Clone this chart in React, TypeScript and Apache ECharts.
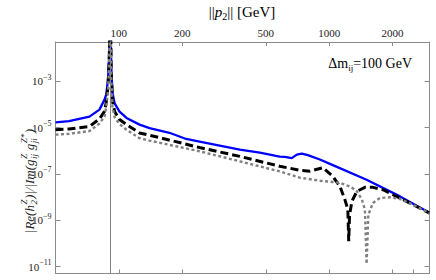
import React, { useEffect, useRef } from "react";
import * as echarts from "echarts";

// ---------- data ----------
const xTopTicksGeV = [100, 200, 500, 1000, 2000];
const xBottomTicksGeV = [100, 200, 500, 1000, 2000, 2500];
const yTickExponents = [-11, -9, -7, -5, -3];
const xRangeGeV = [50, 3000];
const yRange = [5e-12, 5e-2];
const zMassGeV = 91.19;

const blueP = [50, 58, 72.5, 80.9, 85.5, 87.1, 88.8, 89.8, 91.19, 92.1, 93.3, 95.5, 100.8, 108.8, 125.5, 140, 174, 209, 242, 376, 468, 582, 615, 664, 702, 741, 792, 903, 1041, 1507, 2171, 3000];
const blueRatio = [1.7e-5, 1.91e-5, 2.99e-5, 6.0e-5, 1.62e-4, 2.69e-4, 1.17e-3, 8.7e-3, 1, 4.0e-3, 3.2e-4, 1.12e-4, 4.9e-5, 2.63e-5, 1.35e-5, 9.5e-6, 6.0e-6, 3.24e-6, 2.51e-6, 1.12e-6, 8.3e-7, 5.6e-7, 5.4e-7, 4.8e-7, 6.8e-7, 7.6e-7, 6.5e-7, 4.2e-7, 2.4e-7, 5.6e-8, 1.07e-8, 2.09e-9];

const blackP = [50, 58, 72.5, 80.9, 85.5, 87.1, 88.8, 89.8, 91.19, 92.1, 93.3, 95.5, 100.8, 108.8, 125.5, 156, 242, 376, 582, 725, 809, 933, 1041, 1125, 1188, 1227, 1239, 1250, 1283, 1355, 1479, 1615, 1802, 2171, 3000];
const blackRatio = [8.1e-6, 8.7e-6, 1.12e-5, 2.4e-5, 5.0e-5, 1.26e-4, 5.6e-4, 4.5e-3, 1, 2.0e-3, 1.41e-4, 5.0e-5, 2.24e-5, 1.35e-5, 5.9e-6, 3.7e-6, 1.38e-6, 5.75e-7, 2.14e-7, 1.45e-7, 1.32e-7, 1.86e-7, 7.9e-8, 2.9e-8, 7.8e-9, 2.9e-9, 1.23e-10, 1.6e-9, 6.6e-9, 1.78e-8, 2.63e-8, 2.63e-8, 2.09e-8, 9.1e-9, 2.04e-9];

const grayP = [50, 58, 72.5, 80.9, 85.5, 87.1, 88.8, 89.8, 91.19, 92.1, 93.3, 95.5, 100.8, 108.8, 125.5, 140, 242, 376, 582, 725, 903, 1041, 1125, 1270, 1355, 1431, 1479, 1507, 1536, 1615, 1743, 1945, 2171, 2504, 3000];
const grayRatio = [5.0e-6, 5.4e-6, 7.1e-6, 1.51e-5, 3.0e-5, 7.9e-5, 3.5e-4, 2.8e-3, 1, 1.26e-3, 7.9e-5, 2.8e-5, 1.41e-5, 8.1e-6, 3.5e-6, 2.75e-6, 9.5e-7, 3.5e-7, 1.29e-7, 6.9e-8, 5.1e-8, 4.5e-8, 4.1e-8, 2.75e-8, 1.78e-8, 7.8e-9, 2.9e-9, 1.29e-11, 1.74e-9, 5.6e-9, 9.1e-9, 9.8e-9, 8.3e-9, 4.7e-9, 2.04e-9];

// ---------- helpers ----------
const lg = (v: number) => Math.log10(v);
const toPairs = (ps: number[], vs: number[]) => ps.map((p, i) => [lg(p), lg(vs[i])]);

const SERIF = "Liberation Serif";
const FRAME = "#8a8a8a";
const TEXT = "#222";

function buildYLabel() {
  const canvas = document.createElement("canvas");
  const ctx = canvas.getContext("2d") as CanvasRenderingContext2D;
  const baseSize = 13;
  const smallSize = 9;
  const measure = (t: string, size: number) => {
    ctx.font = `italic ${size}px ${SERIF}`;
    return ctx.measureText(t).width;
  };
  type Piece = { base?: string; sup?: string; sub?: string };
  const pieces: Piece[] = [
    { base: "|Re(h" },
    { sup: "Z", sub: "2" },
    { base: ")|/|Im(g" },
    { sup: "Z", sub: "ij" },
    { base: " g" },
    { sup: "Z*", sub: "ji" },
    { base: ")" },
  ];
  const widths = pieces.map((p) =>
    p.base ? measure(p.base, baseSize) : Math.max(measure(p.sup || "", smallSize), measure(p.sub || "", smallSize)) + 1
  );
  const total = widths.reduce((a, b) => a + b, 0);
  let x = -total / 2;
  const children: any[] = [];
  const mk = (t: string, size: number, px: number, py: number) => ({
    type: "text",
    x: px,
    y: py,
    style: {
      text: t,
      fontSize: size,
      fontFamily: SERIF,
      fontStyle: "italic",
      fill: TEXT,
      align: "left",
      verticalAlign: "middle",
    },
  });
  pieces.forEach((p, i) => {
    if (p.base) children.push(mk(p.base, baseSize, x, 0));
    else {
      children.push(mk(p.sup || "", smallSize, x + 0.5, -5.5));
      children.push(mk(p.sub || "", smallSize, x + 0.5, 4.5));
    }
    x += widths[i];
  });
  return { type: "group", x: 29, y: 181, rotation: Math.PI / 2, children };
}

export default function App() {
  const ref = useRef<HTMLDivElement>(null);
  useEffect(() => {
    document.body.style.margin = "0";
    if (!ref.current) return;
    const chart = echarts.init(ref.current, undefined, { renderer: "svg" });

    const tickLabelRich = {
      b: { fontSize: 11, fontFamily: SERIF, color: TEXT, lineHeight: 16 },
      s: { fontSize: 8, fontFamily: SERIF, color: TEXT, lineHeight: 8, verticalAlign: "top" },
    };

    const xCommon = {
      type: "value",
      min: lg(xRangeGeV[0]),
      max: lg(xRangeGeV[1]),
      splitLine: { show: false },
      axisLine: { show: true, lineStyle: { color: FRAME, width: 1 } },
    };
    const yCommon = {
      type: "value",
      min: lg(yRange[0]),
      max: lg(yRange[1]),
      splitLine: { show: false },
      axisLine: { show: true, lineStyle: { color: FRAME, width: 1 } },
    };

    const option: any = {
      animation: false,
      backgroundColor: "#fff",
      textStyle: { fontFamily: SERIF },
      grid: { left: 55.5, top: 42, right: 6.5, bottom: 6.5, outerBoundsMode: "none" },
      xAxis: [
        {
          ...xCommon,
          position: "top",
          axisTick: {
            show: true,
            inside: true,
            length: 4,
            lineStyle: { color: FRAME },
            customValues: xTopTicksGeV.map(lg),
          },
          axisLabel: {
            show: true,
            margin: 4,
            fontSize: 11,
            fontFamily: SERIF,
            color: TEXT,
            customValues: xTopTicksGeV.map(lg),
            formatter: (v: number) => String(Math.round(Math.pow(10, v))),
          },
        },
        {
          ...xCommon,
          position: "bottom",
          axisTick: {
            show: true,
            inside: true,
            length: 4,
            lineStyle: { color: FRAME },
            customValues: xBottomTicksGeV.map(lg),
          },
          axisLabel: { show: false },
        },
      ],
      yAxis: [
        {
          ...yCommon,
          position: "left",
          axisTick: {
            show: true,
            inside: true,
            length: 5,
            lineStyle: { color: FRAME },
            customValues: yTickExponents,
          },
          axisLabel: {
            show: true,
            margin: 4,
            fontFamily: SERIF,
            customValues: yTickExponents,
            formatter: (v: number) => `{b|10}{s|\u2212${Math.abs(Math.round(v))}}`,
            rich: tickLabelRich,
          },
        },
        {
          ...yCommon,
          position: "right",
          axisTick: {
            show: true,
            inside: true,
            length: 5,
            lineStyle: { color: FRAME },
            customValues: yTickExponents,
          },
          axisLabel: { show: false },
        },
      ],
      series: [
        {
          type: "line",
          name: "blue",
          xAxisIndex: 0,
          yAxisIndex: 0,
          data: toPairs(blueP, blueRatio),
          showSymbol: false,
          symbol: "none",
          lineStyle: { color: "#0000ff", width: 2.3 },
          clip: true,
          z: 2,
          markLine: {
            silent: true,
            symbol: "none",
            label: { show: false },
            lineStyle: { color: "#808080", width: 1, type: "solid" },
            data: [{ xAxis: lg(zMassGeV) }],
          },
        },
        {
          type: "line",
          name: "black",
          xAxisIndex: 0,
          yAxisIndex: 0,
          data: toPairs(blackP, blackRatio),
          showSymbol: false,
          symbol: "none",
          lineStyle: { color: "#000000", width: 3, type: [8, 4] },
          clip: true,
          z: 3,
        },
        {
          type: "line",
          name: "gray",
          xAxisIndex: 0,
          yAxisIndex: 0,
          data: toPairs(grayP, grayRatio),
          showSymbol: false,
          symbol: "none",
          lineStyle: { color: "#808080", width: 2.4, type: [3, 2.5] },
          clip: true,
          z: 4,
        },
      ],
      graphic: [
        {
          type: "text",
          x: 242,
          y: 12,
          style: {
            text: "{a|||}{i|p}{s|2}{a||| [GeV]}",
            align: "center",
            verticalAlign: "middle",
            rich: {
              a: { fontSize: 15, fontFamily: SERIF, color: TEXT, lineHeight: 18 },
              i: { fontSize: 15, fontFamily: SERIF, fontStyle: "italic", color: TEXT, lineHeight: 18 },
              s: { fontSize: 10, fontFamily: SERIF, color: TEXT, lineHeight: 10, verticalAlign: "bottom" },
            },
          },
        },
        {
          type: "text",
          x: 412,
          y: 63,
          style: {
            text: "{a|\u0394m}{s|ij}{a|=100 GeV}",
            align: "right",
            verticalAlign: "middle",
            rich: {
              a: { fontSize: 14, fontFamily: SERIF, color: "#000", lineHeight: 18 },
              s: { fontSize: 9, fontFamily: SERIF, color: "#000", lineHeight: 9, verticalAlign: "bottom" },
            },
          },
        },
        buildYLabel(),
      ],
    };
    chart.setOption(option);
    return () => chart.dispose();
  }, []);
  return <div ref={ref} style={{ position: "fixed", left: 0, top: 0, width: 436, height: 280, background: "#fff" }} />;
}
